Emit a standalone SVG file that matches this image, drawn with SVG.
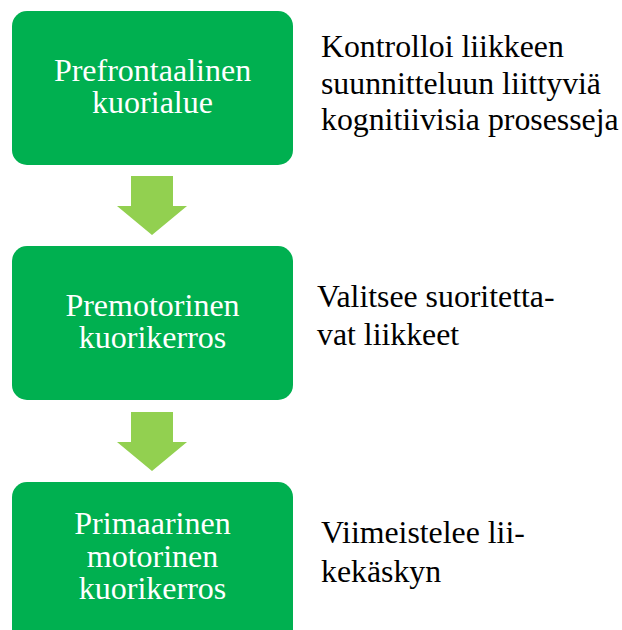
<svg xmlns="http://www.w3.org/2000/svg" width="622" height="630" viewBox="0 0 622 630">
<style>
.box{fill:#00B050}
.arr{fill:#92D050}
.bt{font-family:"Liberation Serif","Times New Roman",serif;font-size:32px;fill:#ffffff;text-anchor:middle}
.st{font-family:"Liberation Serif","Times New Roman",serif;font-size:31.8px;fill:#000000}
</style>
<rect width="622" height="630" fill="#ffffff"/>
<g id="connectors">
<polygon class="arr" points="131,176 173,176 173,206 187,206 152,235 117,206 131,206"/>
<polygon class="arr" points="131,412 173,412 173,442 187,442 152,471 117,442 131,442"/>
</g>
<g id="node1">
<rect class="box" x="12" y="11" width="281" height="154" rx="15"/>
<text class="bt" x="152.5" y="81">Prefrontaalinen</text>
<text class="bt" x="152.5" y="113">kuorialue</text>
</g>
<g id="node2">
<rect class="box" x="12" y="246" width="281" height="154" rx="15"/>
<text class="bt" x="152.5" y="316">Premotorinen</text>
<text class="bt" x="152.5" y="348">kuorikerros</text>
</g>
<g id="node3">
<rect class="box" x="12" y="482" width="281" height="170" rx="15"/>
<text class="bt" x="152.5" y="534">Primaarinen</text>
<text class="bt" x="152.5" y="567">motorinen</text>
<text class="bt" x="152.5" y="599">kuorikerros</text>
</g>
<g id="label1">
<text class="st" x="321" y="57">Kontrolloi liikkeen</text>
<text class="st" x="321" y="94">suunnitteluun liittyviä</text>
<text class="st" x="321" y="130">kognitiivisia prosesseja</text>
</g>
<g id="label2">
<text class="st" x="317" y="307">Valitsee suoritetta-</text>
<text class="st" x="317" y="345">vat liikkeet</text>
</g>
<g id="label3">
<text class="st" x="321" y="543">Viimeistelee lii-</text>
<text class="st" x="321" y="582">kekäskyn</text>
</g>
</svg>
